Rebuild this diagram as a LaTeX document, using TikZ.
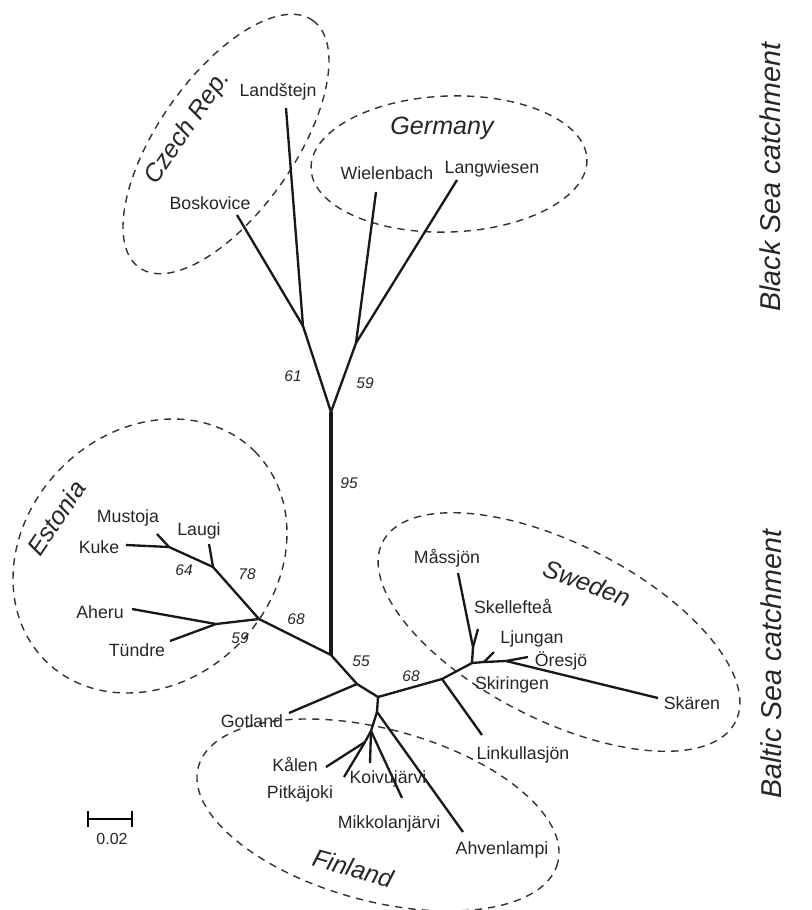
\documentclass[tikz,border=0pt]{standalone}
\usepackage{fontspec}
\setmainfont{Liberation Sans}
\begin{document}
\begin{tikzpicture}[x=0.75pt,y=-0.75pt,
  br/.style={line width=1.75pt, line join=round, black!90},
  trunk/.style={line width=3.7pt, black!90},
  ell/.style={line width=1.05pt, dash pattern=on 5.5pt off 4.5pt, black!80},
  lab/.style={font=\fontsize{13.3}{15}\selectfont, inner sep=0pt, text=black!85, anchor=base},
  bs/.style={font=\fontsize{11.6}{13}\selectfont\itshape, inner sep=0pt, text=black!85},
  grp/.style={font=\fontsize{18.8}{22}\selectfont\itshape, inner sep=0pt, text=black!85},
  side/.style={font=\fontsize{21.5}{25}\selectfont\itshape, inner sep=0pt, text=black!85, rotate=90}]
\useasboundingbox (0,0) rectangle (811,910);

% ---------- ellipses ----------
\coordinate (czc) at (226,144);
\coordinate (dec) at (449,164);
\coordinate (eec) at (150,556);
\coordinate (sec) at (559,632);
\coordinate (fic) at (378,815);
\draw[ell, rotate around={55:(czc)}] (czc) ellipse (151 and 68);
\draw[ell, rotate around={2:(dec)}] (dec) ellipse (138 and 68);
\draw[ell, rotate around={45:(eec)}] (eec) ellipse (148 and 125);
\draw[ell, rotate around={-27:(sec)}] (sec) ellipse (198 and 88);
\draw[ell, rotate around={-15:(fic)}] (fic) ellipse (186 and 86);

% ---------- tree coordinates ----------
\coordinate (T) at (331,412);
\coordinate (B) at (331,655);
\coordinate (CJ) at (303,326);
\coordinate (LaT) at (286,108);
\coordinate (BoT) at (237,215);
\coordinate (GJ) at (356,343);
\coordinate (WiT) at (376,192);
\coordinate (LwT) at (457,180);
% Estonia
\coordinate (E1) at (259,619);
\coordinate (E2) at (213,567);
\coordinate (LauT) at (209,544);
\coordinate (E3) at (169,547);
\coordinate (MuT) at (157,534);
\coordinate (KuT) at (126,545);
\coordinate (E4) at (216,624);
\coordinate (AhT) at (132,609);
\coordinate (TuT) at (170,641);
% centre
\coordinate (GoJ) at (357,684);
\coordinate (GoT) at (289,713);
\coordinate (F) at (378,697);
% Sweden
\coordinate (S1) at (442,679);
\coordinate (LiT) at (482,735);
\coordinate (S2) at (472,663);
\coordinate (SkJ) at (473,647);
\coordinate (MaT) at (458,573);
\coordinate (SeT) at (478,629);
\coordinate (S3) at (484,662);
\coordinate (LjT) at (494,652);
\coordinate (S4) at (506,661);
\coordinate (OrT) at (528,657);
\coordinate (SaT) at (658,698);
% Finland
\coordinate (F2) at (377,712);
\coordinate (AvT) at (463,832);
\coordinate (F3) at (371,731);
\coordinate (MiT) at (402,798);
\coordinate (KoT) at (370,763);
\coordinate (F4) at (365,742);
\coordinate (KaT) at (326,767);
\coordinate (PiT) at (344,777);

% ---------- branches ----------
\draw[trunk] (T) -- (B);
\draw[br] (T) -- (CJ) -- (LaT);
\draw[br] (CJ) -- (BoT);
\draw[br] (T) -- (GJ) -- (WiT);
\draw[br] (GJ) -- (LwT);
\draw[br] (B) -- (E1) -- (E2) -- (E3) -- (KuT);
\draw[br] (E3) -- (MuT);
\draw[br] (E2) -- (LauT);
\draw[br] (E1) -- (E4) -- (AhT);
\draw[br] (E4) -- (TuT);
\draw[br] (B) -- (GoJ) -- (F);
\draw[br] (GoJ) -- (GoT);
\draw[br] (F) -- (S1) -- (S2) -- (S3) -- (S4) -- (SaT);
\draw[br] (S1) -- (LiT);
\draw[br] (S2) -- (SkJ) -- (MaT);
\draw[br] (SkJ) -- (SeT);
\draw[br] (S3) -- (LjT);
\draw[br] (S4) -- (OrT);
\draw[br] (F) -- (F2) -- (AvT);
\draw[br] (F2) -- (F3) -- (MiT);
\draw[br] (F3) -- (KoT);
\draw[br] (F3) -- (F4) -- (KaT);
\draw[br] (F4) -- (PiT);

% ---------- scale bar ----------
\coordinate (sbL) at (88,819);
\coordinate (sbR) at (132,819);
\draw[line width=2.2pt] (sbL) -- (sbR);
\draw[line width=2.2pt] (sbL) ++(0,-8) -- ++(0,16);
\draw[line width=2.2pt] (sbR) ++(0,-8) -- ++(0,16);
\node[lab, font=\fontsize{12}{14}\selectfont] (sbt) at (112,844) {0.02};

% ---------- tip labels ----------
\node[lab] (la) at (278,96) {Landštejn};
\node[lab] (bo) at (210,209) {Boskovice};
\node[lab] (wi) at (387,179) {Wielenbach};
\node[lab] (lw) at (492,173) {Langwiesen};
\node[lab] (mu) at (128,522) {Mustoja};
\node[lab] (lau) at (199,535) {Laugi};
\node[lab] (ku) at (99,553) {Kuke};
\node[lab] (ah) at (100,618) {Aheru};
\node[lab] (tu) at (137,656) {Tündre};
\node[lab] (ma) at (447,563) {Måssjön};
\node[lab] (se) at (513,613) {Skellefteå};
\node[lab] (lj) at (532,643) {Ljungan};
\node[lab] (or) at (561,666) {Öresjö};
\node[lab] (sk) at (512,689) {Skiringen};
\node[lab] (sa) at (692,709) {Skären};
\node[lab] (li) at (523,759) {Linkullasjön};
\node[lab] (go) at (252,727) {Gotland};
\node[lab] (ka) at (295,771) {Kålen};
\node[lab] (pi) at (300,798) {Pitkäjoki};
\node[lab] (ko) at (388,783) {Koivujärvi};
\node[lab] (mi) at (389,828) {Mikkolanjärvi};
\node[lab] (av) at (502,854) {Ahvenlampi};

% ---------- bootstrap values ----------
\node[bs] (b61) at (293,376) {61};
\node[bs] (b59a) at (365,383) {59};
\node[bs] (b95) at (349,483) {95};
\node[bs] (b64) at (184,570) {64};
\node[bs] (b78) at (247,574) {78};
\node[bs] (b59b) at (240,638) {59};
\node[bs] (b68a) at (296,619) {68};
\node[bs] (b55) at (361,661) {55};
\node[bs] (b68b) at (411,676) {68};

% ---------- group labels ----------
\node[grp, rotate=56] (gcz) at (188,128) {Czech Rep.};
\node[grp, anchor=base] (gde) at (442,134) {Germany};
\node[grp, rotate=56] (gee) at (56,518) {Estonia};
\node[grp, rotate=-21] (gse) at (587,583) {Sweden};
\node[grp, rotate=-16] (gfi) at (353,868) {Finland};

\node[side] (bls) at (770,177) {Black Sea catchment};
\node[side] (bas) at (771,664) {Baltic Sea catchment};
\end{tikzpicture}
\end{document}
